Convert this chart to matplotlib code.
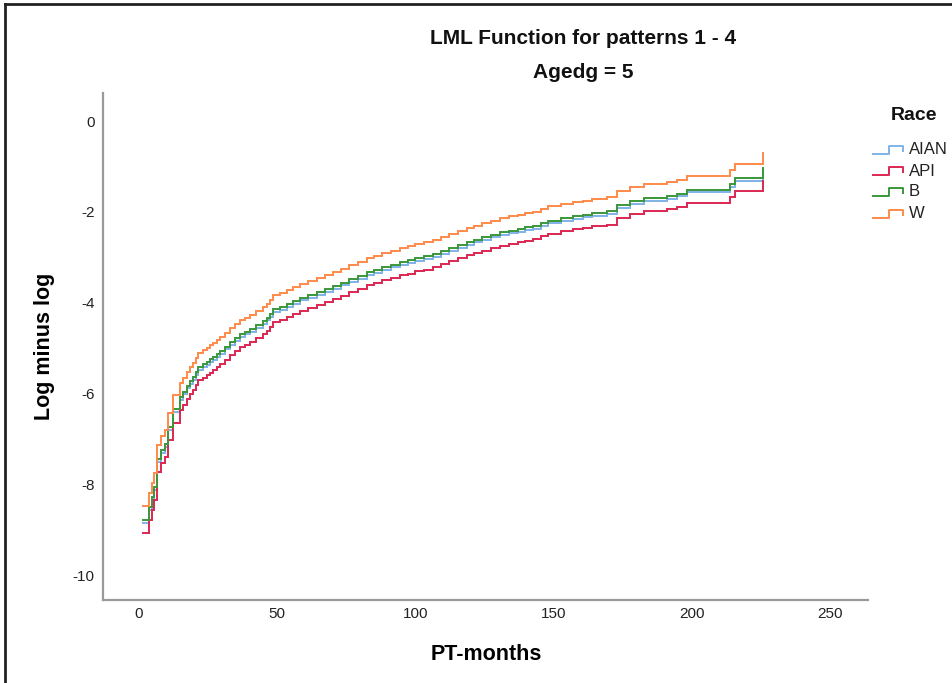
import matplotlib
matplotlib.use("Agg")
import matplotlib.pyplot as plt
from matplotlib.lines import Line2D

# ---- data ----
races = ["AIAN", "API", "B", "W"]
times = [1.5, 3.7, 4.6, 5.6, 6.4, 7.8, 9.5, 10.6, 12.4, 14.8,
         16.0, 17.3, 18.5, 19.6, 20.5, 21.5, 23.0, 24.5, 25.7, 26.9,
         28.1, 29.3, 31.0, 32.9, 34.7, 36.5, 38.3, 40.2, 42.5, 45.0,
         46.2, 47.4, 48.6, 51.0, 53.4, 55.8, 58.2, 61.2, 64.3, 67.3,
         70.3, 73.1, 76.0, 79.2, 82.4, 85.2, 88.0, 91.2, 94.4, 97.2,
         100.0, 103.2, 106.5, 109.2, 112.0, 115.3, 118.6, 121.3, 124.0, 127.3,
         130.6, 133.8, 137.0, 139.8, 142.7, 145.4, 148.1, 152.6, 157.1, 160.5,
         164.0, 169.2, 172.8, 177.6, 182.5, 190.9, 194.5, 198.1, 213.8, 215.6,
         225.6]
lml_w = [-8.48, -8.19, -7.97, -7.75, -7.14, -6.94, -6.80, -6.43, -6.04, -5.77,
         -5.65, -5.52, -5.42, -5.33, -5.22, -5.11, -5.05, -5.00, -4.94, -4.89,
         -4.82, -4.75, -4.66, -4.56, -4.47, -4.38, -4.33, -4.27, -4.18, -4.09,
         -4.02, -3.94, -3.83, -3.78, -3.72, -3.65, -3.58, -3.52, -3.46, -3.39,
         -3.32, -3.25, -3.17, -3.10, -3.02, -2.97, -2.91, -2.85, -2.80, -2.76,
         -2.71, -2.67, -2.62, -2.55, -2.49, -2.42, -2.36, -2.30, -2.25, -2.19,
         -2.14, -2.10, -2.07, -2.03, -2.00, -1.94, -1.88, -1.83, -1.78, -1.75,
         -1.72, -1.68, -1.54, -1.45, -1.39, -1.34, -1.29, -1.20, -1.08, -0.95,
         -0.71]
lml_b = [-8.79, -8.50, -8.28, -8.06, -7.45, -7.25, -7.11, -6.74, -6.35, -6.08,
         -5.96, -5.83, -5.73, -5.64, -5.53, -5.42, -5.36, -5.31, -5.25, -5.20,
         -5.13, -5.06, -4.97, -4.87, -4.78, -4.69, -4.64, -4.58, -4.49, -4.40,
         -4.33, -4.25, -4.14, -4.09, -4.03, -3.96, -3.89, -3.83, -3.77, -3.70,
         -3.63, -3.56, -3.48, -3.41, -3.33, -3.28, -3.22, -3.16, -3.11, -3.07,
         -3.02, -2.98, -2.93, -2.86, -2.80, -2.73, -2.67, -2.61, -2.56, -2.50,
         -2.45, -2.41, -2.38, -2.34, -2.31, -2.25, -2.19, -2.14, -2.09, -2.06,
         -2.03, -1.99, -1.85, -1.76, -1.70, -1.65, -1.60, -1.51, -1.39, -1.26,
         -1.03]
lml_aian = [-8.85, -8.56, -8.34, -8.12, -7.51, -7.31, -7.17, -6.80, -6.41, -6.14,
            -6.02, -5.89, -5.79, -5.70, -5.59, -5.48, -5.42, -5.37, -5.31, -5.26,
            -5.19, -5.12, -5.03, -4.93, -4.84, -4.75, -4.70, -4.64, -4.55, -4.46,
            -4.39, -4.31, -4.20, -4.15, -4.09, -4.02, -3.95, -3.89, -3.83, -3.76,
            -3.69, -3.62, -3.54, -3.47, -3.39, -3.34, -3.28, -3.22, -3.17, -3.13,
            -3.08, -3.04, -2.99, -2.92, -2.86, -2.79, -2.73, -2.67, -2.62, -2.56,
            -2.51, -2.47, -2.44, -2.40, -2.37, -2.31, -2.25, -2.20, -2.15, -2.12,
            -2.09, -2.05, -1.91, -1.82, -1.76, -1.71, -1.66, -1.57, -1.45, -1.32,
            -1.12]
lml_api = [-9.08, -8.79, -8.57, -8.35, -7.74, -7.54, -7.40, -7.03, -6.64, -6.37,
           -6.25, -6.12, -6.02, -5.93, -5.82, -5.71, -5.65, -5.60, -5.54, -5.49,
           -5.42, -5.35, -5.26, -5.16, -5.07, -4.98, -4.93, -4.87, -4.78, -4.69,
           -4.62, -4.54, -4.43, -4.38, -4.32, -4.25, -4.18, -4.12, -4.06, -3.99,
           -3.92, -3.85, -3.77, -3.70, -3.62, -3.57, -3.51, -3.45, -3.40, -3.36,
           -3.31, -3.27, -3.22, -3.15, -3.09, -3.02, -2.96, -2.90, -2.85, -2.79,
           -2.74, -2.70, -2.67, -2.63, -2.60, -2.54, -2.48, -2.43, -2.38, -2.35,
           -2.32, -2.28, -2.14, -2.05, -1.99, -1.94, -1.89, -1.80, -1.68, -1.55,
           -1.32]
xticks = [0, 50, 100, 150, 200, 250]
yticks = [0, -2, -4, -6, -8, -10]

colors = ["#7FB2EA", "#DA2652", "#3A983A", "#FF8A4A"]
series = [lml_aian, lml_api, lml_b, lml_w]

font = "Liberation Sans"

W, H = 952, 683
fig = plt.figure(figsize=(W / 100, H / 100), dpi=100)

def fx(px):
    return px / W

def fy(py):
    return 1 - py / H

ax = fig.add_axes([fx(103), fy(600), fx(868) - fx(103), fy(93) - fy(600)])
for vals, c in zip(series, colors):
    ax.step(times, vals, where="post", color=c, lw=1.4, solid_joinstyle="miter")

ax.set_xlim(-13.0, 263.7)
ax.set_ylim(-10.55, 0.62)
ax.set_xticks(xticks)
ax.set_yticks(yticks)
ax.set_xticklabels([str(v) for v in xticks], fontfamily=font, fontsize=11, color="#222222")
ax.set_yticklabels([str(v) for v in yticks], fontfamily=font, fontsize=11, color="#222222")
ax.tick_params(axis="x", length=0, pad=5)
ax.tick_params(axis="y", length=0, pad=6)
for s in ["top", "right"]:
    ax.spines[s].set_visible(False)
for s in ["left", "bottom"]:
    ax.spines[s].set_color("#9a9a9a")
    ax.spines[s].set_linewidth(1.6)

ax.set_xlabel("PT-months", fontfamily=font, fontsize=15.5, fontweight="bold")
ax.set_ylabel("Log minus log", fontfamily=font, fontsize=15.5, fontweight="bold")
ax.xaxis.set_label_coords((486 - 103) / 765, (600 - 655) / 507)
ax.yaxis.set_label_coords((45 - 103) / 765, (600 - 346) / 507)
ax.xaxis.label.set_va("center")
ax.yaxis.label.set_va("center")

fig.text(fx(583), fy(38), "LML Function for patterns 1 - 4", ha="center", va="center",
         fontfamily=font, fontsize=15, fontweight="bold", color="#111111")
fig.text(fx(583), fy(73), "Agedg = 5", ha="center", va="center",
         fontfamily=font, fontsize=15, fontweight="bold", color="#111111")

# legend (drawn manually to reproduce the step-shaped swatches)
fig.text(fx(914), fy(115), "Race", ha="center", va="center", fontfamily=font,
         fontsize=14, fontweight="bold", color="#111111")
leg_y = [150, 171, 192, 214]
for name, c, yy in zip(races, colors, leg_y):
    xs = [873, 889, 889, 903, 903]
    ys = [yy + 4, yy + 4, yy - 4, yy - 4, yy + 1]
    fig.add_artist(Line2D([fx(v) for v in xs], [fy(v) for v in ys], color=c, lw=1.4))
    fig.text(fx(909), fy(yy), name, ha="left", va="center", fontfamily=font,
             fontsize=12, color="#222222")

# outer frame lines (top and left)
fig.add_artist(Line2D([fx(5), 1], [fy(4), fy(4)], color="#222222", lw=2))
fig.add_artist(Line2D([fx(5), fx(5)], [fy(4), 0], color="#222222", lw=2))

fig.savefig("out.png", dpi=100, facecolor="white")
